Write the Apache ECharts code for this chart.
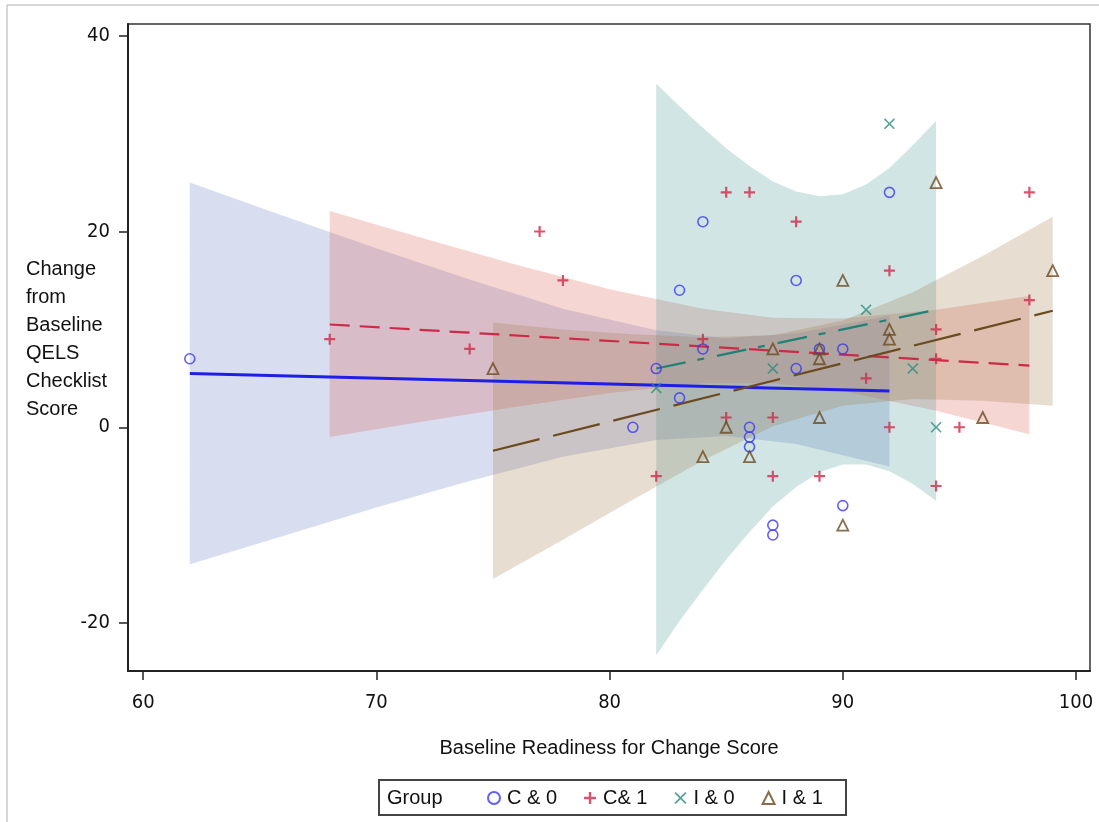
<!DOCTYPE html>
<html>
<head>
<meta charset="utf-8">
<script src="https://cdn.jsdelivr.net/npm/echarts@6/dist/echarts.min.js"></script>
<style>
html,body{margin:0;padding:0;background:#fff;}
#chart{width:1099px;height:822px;}
</style>
</head>
<body>
<div id="chart"></div>
<script>
// ---- Data ----
const groupNames = ['C & 0', 'C& 1', 'I & 0', 'I & 1'];
const xTicks = [60, 70, 80, 90, 100];
const yTicks = [-20, 0, 20, 40];

const pointsC0 = [[62,7],[81,0],[82,6],[83,14],[83,3],[84,21],[84,8],[86,0],[86,-1],[86,-2],[87,-10],[87,-11],[88,15],[88,6],[89,8],[90,8],[90,-8],[92,24]];
const pointsC1 = [[68,9],[74,8],[77,20],[78,15],[82,-5],[84,9],[85,24],[85,1],[86,24],[87,1],[87,-5],[88,21],[89,-5],[91,5],[92,16],[92,0],[94,10],[94,7],[94,-6],[95,0],[98,24],[98,13]];
const pointsI0 = [[82,4],[87,6],[91,12],[92,31],[93,6],[94,0]];
const pointsI1 = [[75,6],[84,-3],[85,0],[86,-3],[87,8],[89,8],[89,7],[89,1],[90,15],[90,-10],[92,10],[92,9],[94,25],[96,1],[99,16]];

const fitC0 = [[62,5.5],[92,3.7]];
const fitC1 = [[68,10.5],[98,6.3]];
const fitI0 = [[82,6],[94,12]];
const fitI1 = [[75,-2.4],[99,11.9]];

const bandC0x  = [62, 66, 70, 74, 78, 82, 85, 88, 92];
const bandC0hi = [25.0, 21.6, 18.3, 15.1, 12.1, 9.9, 9.1, 9.6, 11.4];
const bandC0lo = [-14.0, -11.1, -8.2, -5.5, -3.0, -1.3, -0.9, -1.7, -4.0];

const bandC1x  = [68, 72, 76, 80, 84, 87, 90, 94, 98];
const bandC1hi = [22.1, 19.3, 16.6, 14.1, 12.1, 11.2, 11.1, 12.0, 13.4];
const bandC1lo = [-1.0, 0.6, 2.1, 3.5, 4.5, 4.5, 3.7, 1.7, -0.7];

const bandI0x  = [82, 83, 84, 85, 86, 87, 88, 89, 90, 91, 92, 93, 94];
const bandI0hi = [35.1, 32.8, 30.6, 28.5, 26.7, 25.1, 24.1, 23.6, 23.8, 24.8, 26.5, 28.8, 31.3];
const bandI0lo = [-23.3, -19.8, -16.6, -13.5, -10.7, -8.1, -6.1, -4.6, -3.8, -3.8, -4.5, -5.8, -7.5];

const bandI1x  = [75, 78, 81, 84, 87, 90, 93, 96, 99];
const bandI1hi = [10.7, 10.0, 9.5, 9.2, 9.4, 10.9, 13.8, 17.5, 21.5];
const bandI1lo = [-15.5, -11.5, -7.4, -3.4, 0.1, 2.2, 2.9, 2.7, 2.2];

// ---- Chart ----
const chart = echarts.init(document.getElementById('chart'), null, {renderer: 'canvas'});

function band(name, xs, lo, hi, fill) {
  return {
    type: 'custom', name: name, silent: true, z: 1, clip: true,
    data: xs.map((x, i) => [x, lo[i], hi[i]]),
    encode: {x: 0, y: [1, 2]},
    renderItem: function (params, api) {
      if (params.dataIndex !== 0) return null;
      const pts = [];
      for (let i = 0; i < xs.length; i++) pts.push(api.coord([xs[i], hi[i]]));
      for (let i = xs.length - 1; i >= 0; i--) pts.push(api.coord([xs[i], lo[i]]));
      return {type: 'polygon', shape: {points: pts}, style: {fill: fill}};
    }
  };
}
function fit(name, data, color, width, dash) {
  return {
    type: 'line', name: name, data: data, symbol: 'none', z: 2, silent: true,
    lineStyle: {color: color, width: width, type: dash}
  };
}
function pts(name, data, symbol, size, color, bw) {
  return {
    type: 'scatter', name: name, data: data, symbol: symbol, symbolSize: size, z: 3,
    itemStyle: symbol === 'circle' || symbol === 'triangle'
      ? {color: 'rgba(0,0,0,0)', borderColor: color, borderWidth: bw}
      : {color: color, borderWidth: 0}
  };
}
const PLUS = 'path://M4,0H6V4H10V6H6V10H4V6H0V4H4Z';
const XSYM = 'path://M1,0L5,4L9,0L10,1L6,5L10,9L9,10L5,6L1,10L0,9L4,5L0,1Z';

const tickFont = '"Liberation Sans Narrow","DejaVu Sans Condensed","Liberation Sans",sans-serif';
const textFont = '"Liberation Sans",Arial,sans-serif';

const option = {
  backgroundColor: '#fff',
  animation: false,
  grid: {left: 128, top: 24, right: 9, bottom: 151, show: true, borderColor: '#333', borderWidth: 1.5, backgroundColor: 'transparent'},
  xAxis: {
    type: 'value', min: 59.35, max: 100.6,
    splitLine: {show: false},
    axisLine: {show: true, onZero: false, lineStyle: {color: '#222', width: 2}},
    axisTick: {show: true, length: 9, inside: false, lineStyle: {color: '#222', width: 1.5}, customValues: xTicks},
    axisLabel: {color: '#111', fontSize: 20, fontFamily: tickFont, margin: 22, customValues: xTicks},
    name: 'Baseline Readiness for Change Score', nameLocation: 'middle', nameGap: 67,
    nameTextStyle: {color: '#111', fontSize: 20, fontFamily: textFont}
  },
  yAxis: {
    type: 'value', min: -24.9, max: 41.2,
    splitLine: {show: false},
    axisLine: {show: true, onZero: false, lineStyle: {color: '#222', width: 2}},
    axisTick: {show: true, length: 9, inside: false, lineStyle: {color: '#222', width: 1.5}, customValues: yTicks},
    axisLabel: {color: '#111', fontSize: 20, fontFamily: tickFont, margin: 18, customValues: yTicks}
  },
  legend: {
    show: true, orient: 'horizontal', left: 482, top: 783,
    itemWidth: 12, itemHeight: 12, itemGap: 27,
    data: groupNames,
    textStyle: {color: '#111', fontSize: 20, fontFamily: textFont, padding: [0, 0, 0, 2]},
    selectedMode: false
  },
  graphic: [
    {type: 'line', shape: {x1: 7, y1: 5, x2: 1099, y2: 5}, style: {stroke: '#c8c8c8', lineWidth: 1.5}},
    {type: 'line', shape: {x1: 7, y1: 5, x2: 7, y2: 822}, style: {stroke: '#c8c8c8', lineWidth: 1.5}},
    {type: 'rect', shape: {x: 379, y: 780, width: 467, height: 35}, style: {fill: 'none', stroke: '#444', lineWidth: 2}},
    {type: 'text', left: 387, top: 788, style: {text: 'Group', font: '20px ' + textFont, fill: '#111'}},
    {type: 'text', left: 26, top: 255, style: {text: 'Change\nfrom\nBaseline\nQELS\nChecklist\nScore', font: '20px ' + textFont, fill: '#111', lineHeight: 28}}
  ],
  series: [
    band('band C0', bandC0x, bandC0lo, bandC0hi, 'rgba(100,125,195,0.25)'),
    band('band C1', bandC1x, bandC1lo, bandC1hi, 'rgba(215,90,80,0.25)'),
    band('band I0', bandI0x, bandI0lo, bandI0hi, 'rgba(70,150,150,0.25)'),
    band('band I1', bandI1x, bandI1lo, bandI1hi, 'rgba(160,120,70,0.25)'),
    fit('fit C0', fitC0, '#1e1ee6', 3, 'solid'),
    fit('fit C1', fitC1, '#cc2a48', 2.2, [20, 10]),
    fit('fit I0', fitI0, '#1f8276', 2.2, [30, 12, 7, 13]),
    fit('fit I1', fitI1, '#6b4a1e', 2.2, [48, 14]),
    pts(groupNames[0], pointsC0, 'circle', 10, '#3a3af0', 1.6),
    pts(groupNames[1], pointsC1, PLUS, 11, '#cc2a48', 0),
    pts(groupNames[2], pointsI0, XSYM, 11, '#2a8a80', 0),
    pts(groupNames[3], pointsI1, 'triangle', 11, '#6b4a1e', 1.8)
  ]
};
chart.setOption(option);
</script>
</body>
</html>
